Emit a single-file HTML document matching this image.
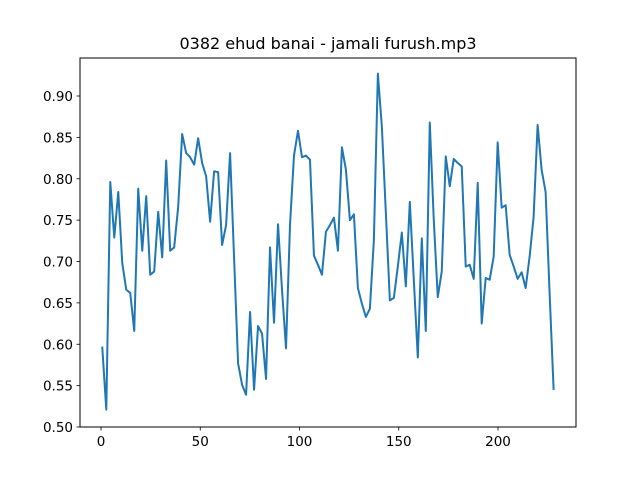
<!DOCTYPE html>
<html><head><meta charset="utf-8"><style>
html,body{margin:0;padding:0;background:#fff;}
svg{display:block;font-family:"DejaVu Sans","Liberation Sans",sans-serif;}
</style></head><body>
<svg id="chart" width="640" height="480" viewBox="0 0 640 480">
<rect width="640" height="480" fill="#fff"/>
<text x="328" y="49" text-anchor="middle" font-size="16" fill="#000">0382 ehud banai - jamali furush.mp3</text>
<g id="axes"></g>
<g id="plot"></g>
<rect x="80" y="58" width="496" height="369" fill="none" stroke="#000" stroke-width="1"/>
</svg>
<script>
const values = [0.596,0.521,0.796,0.729,0.784,0.698,0.666,0.662,0.616,0.788,0.713,0.779,0.684,0.688,0.760,0.705,0.822,0.713,0.717,0.766,0.854,0.831,0.826,0.817,0.849,0.819,0.803,0.748,0.809,0.808,0.720,0.744,0.831,0.704,0.577,0.551,0.539,0.639,0.545,0.622,0.613,0.558,0.717,0.626,0.745,0.666,0.595,0.744,0.828,0.858,0.826,0.828,0.823,0.707,0.696,0.684,0.736,0.744,0.753,0.713,0.838,0.811,0.750,0.757,0.668,0.649,0.633,0.643,0.726,0.927,0.863,0.759,0.653,0.656,0.694,0.735,0.670,0.772,0.678,0.584,0.728,0.616,0.868,0.750,0.657,0.688,0.827,0.791,0.824,0.819,0.815,0.694,0.696,0.679,0.795,0.625,0.680,0.678,0.706,0.844,0.765,0.768,0.708,0.694,0.679,0.687,0.668,0.706,0.754,0.865,0.811,0.784,0.662,0.546];
const xStart = 0.65;
const xStep = 2.012;
const xTicks = [0,50,100,150,200];
const yTicks = [0.50,0.55,0.60,0.65,0.70,0.75,0.80,0.85,0.90];
const yTickLabels = ["0.50","0.55","0.60","0.65","0.70","0.75","0.80","0.85","0.90"];

const NS="http://www.w3.org/2000/svg";
function xs(v){return 101+(v)*1.985;}
function ys(v){return 427-(v-0.5)*827.5;}
const axes=document.getElementById('axes');
const plot=document.getElementById('plot');
function mk(tag,attrs,parent){const e=document.createElementNS(NS,tag);for(const k in attrs)e.setAttribute(k,attrs[k]);parent.appendChild(e);return e;}
xTicks.forEach(t=>{
  const x=xs(t);
  const l=mk('line',{x1:x,x2:x,y1:427,y2:430.5,stroke:'#000','stroke-width':0.8},axes);
  
  
  const tx=mk('text',{x:x,y:446,'text-anchor':'middle','font-size':13.5,fill:'#000'},axes);
  tx.textContent=String(t);
  
  
});
yTicks.forEach((t,i)=>{
  const y=ys(t);
  const l=mk('line',{x1:76.5,x2:80,y1:y,y2:y,stroke:'#000','stroke-width':0.8},axes);
  
  
  const tx=mk('text',{x:73,y:y+5,'text-anchor':'end','font-size':13.5,fill:'#000'},axes);
  tx.textContent=yTickLabels[i];
  
  
});
const pts=values.map((v,i)=>xs(xStart+i*xStep).toFixed(2)+','+ys(v).toFixed(2)).join(' ');
const pl=mk('polyline',{points:pts,fill:'none',stroke:'#1f77b4','stroke-width':2,'stroke-linejoin':'round','stroke-linecap':'square'},plot);


</script>
</body></html>
